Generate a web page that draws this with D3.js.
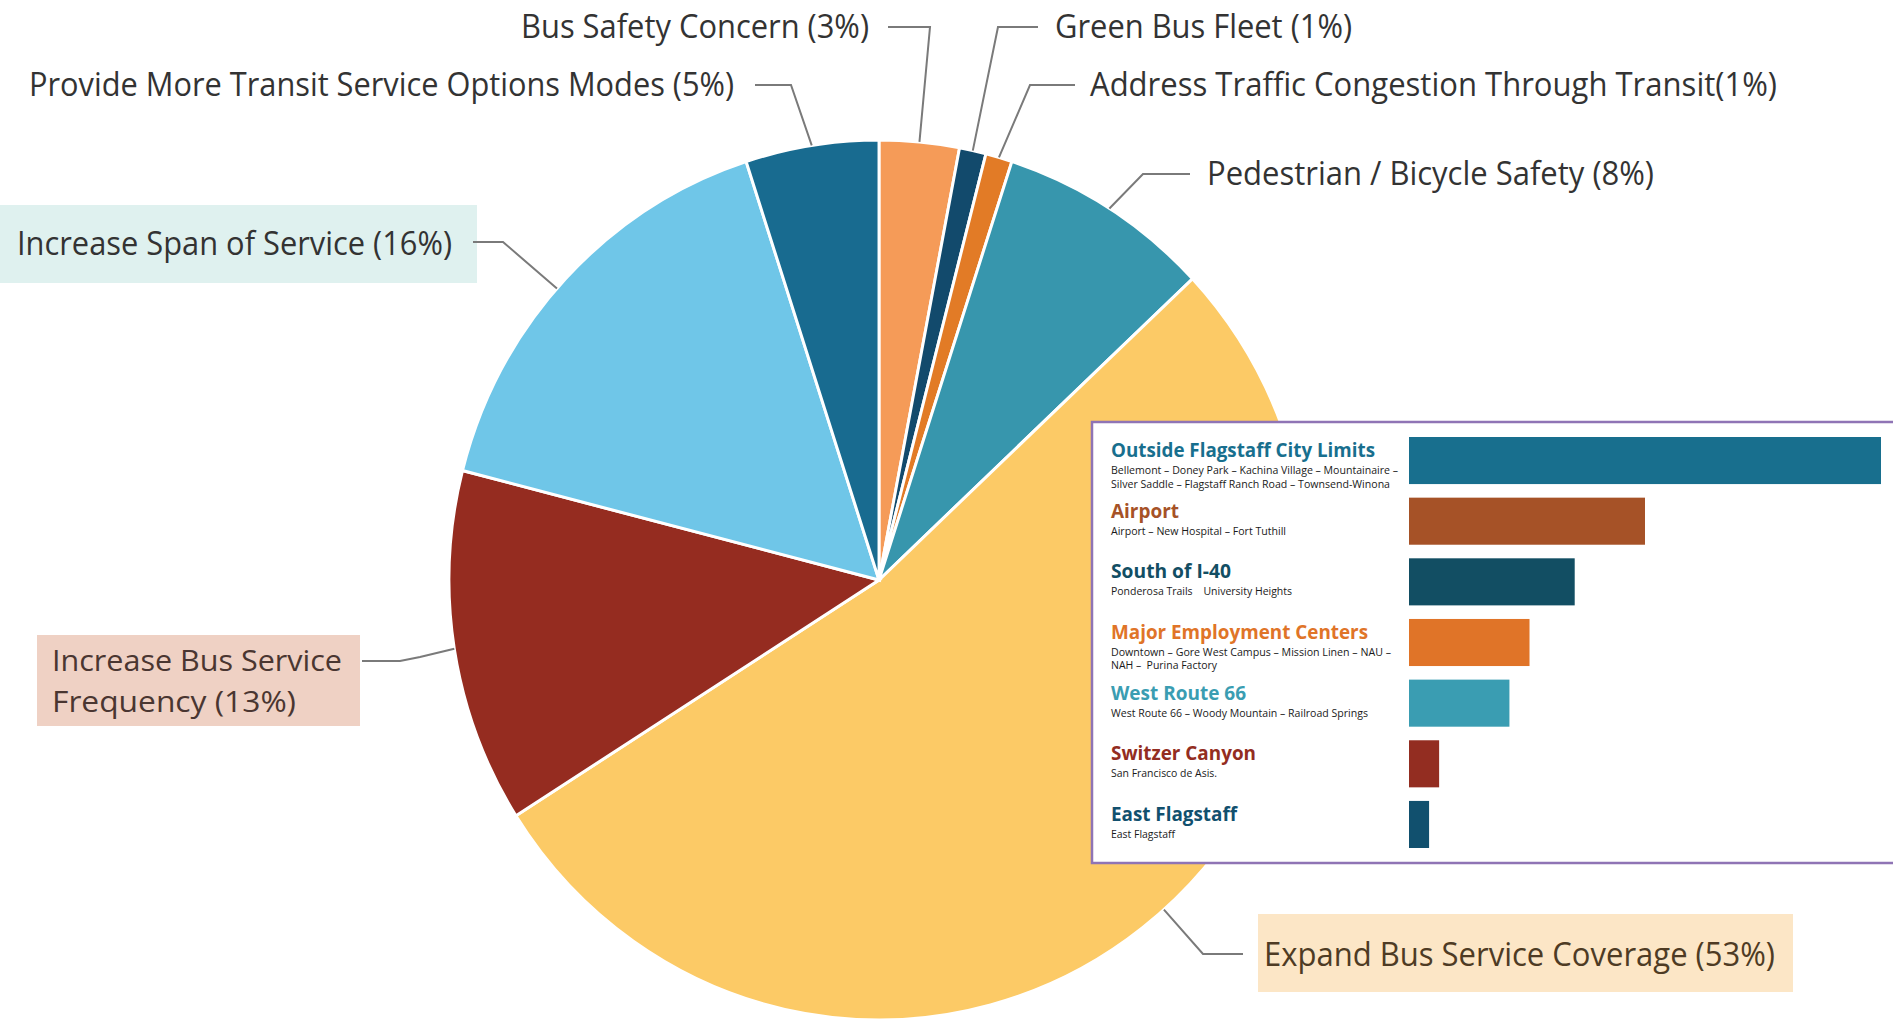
<!DOCTYPE html>
<html>
<head>
<meta charset="utf-8">
<script src="https://cdn.jsdelivr.net/npm/d3@7"></script>
<style>
  html, body { margin: 0; padding: 0; background: #fff; overflow: hidden; }
  text { white-space: pre; }
</style>
</head>
<body>
<div id="chart"></div>
<script>
// pie data, clockwise from 12 o'clock
var pieLabels = [
    "Bus Safety Concern (3%)",
    "Green Bus Fleet (1%)",
    "Address Traffic Congestion Through Transit(1%)",
    "Pedestrian / Bicycle Safety (8%)",
    "Expand Bus Service Coverage (53%)",
    "Increase Bus Service\nFrequency (13%)",
    "Increase Span of Service (16%)",
    "Provide More Transit Service Options Modes (5%)"
];
var pieValues = [3, 1, 1, 8, 53, 13, 16, 5];
var pieColors = ["#f59b58", "#124a6c", "#e27b26", "#3796ad", "#fcca66", "#952c20", "#6fc6e8", "#186b90"];

// inset bar data
var barNames = ["Outside Flagstaff City Limits", "Airport", "South of I-40", "Major Employment Centers",
    "West Route 66", "Switzer Canyon", "East Flagstaff"];
var barSubs = [
    ["Bellemont \u2013 Doney Park \u2013 Kachina Village \u2013 Mountainaire \u2013", "Silver Saddle \u2013 Flagstaff Ranch Road \u2013 Townsend-Winona"],
    ["Airport \u2013 New Hospital \u2013 Fort Tuthill"],
    ["Ponderosa Trails    University Heights"],
    ["Downtown \u2013 Gore West Campus \u2013 Mission Linen \u2013 NAU \u2013", "NAH \u2013  Purina Factory"],
    ["West Route 66 \u2013 Woody Mountain \u2013 Railroad Springs"],
    ["San Francisco de Asis."],
    ["East Flagstaff"]
];
var barValues = [47, 23.5, 16.5, 12, 10, 3, 2];
var barColors = ["#186f8e", "#a65227", "#124e63", "#e07428", "#3a9db2", "#932d21", "#11506e"];

function init() {
    var w = 1893, h = 1023;
    var svg = d3.select("#chart").append("svg")
        .attr("width", w)
        .attr("height", h);

    // ---- pie ----
    var cx = 879, cy = 580, ry = 440, rx = 430;
    var pie = d3.pie().sort(null).value(function (d) { return d; });
    var arc = d3.arc().innerRadius(0).outerRadius(ry);
    var arcs = pie(pieValues);

    svg.append("g")
        .attr("transform", "translate(" + cx + "," + cy + ") scale(" + (rx / ry) + ",1)")
        .selectAll("path")
        .data(arcs)
        .enter()
        .append("path")
        .attr("d", arc)
        .attr("fill", function (d, i) { return pieColors[i]; })
        .attr("stroke", "#fff")
        .attr("stroke-width", 3);

    // label placement (text start, baseline, target width, elbow of leader)
    var labelPos = [
        { x: 521, y: 38, w: 348, line: [[888, 27], [930, 27]] },
        { x: 1055, y: 38, w: 297, line: [[1038, 27], [998, 27]] },
        { x: 1090, y: 96, w: 687, line: [[1075, 85], [1030, 85]] },
        { x: 1207, y: 185, w: 447, line: [[1190, 174], [1143, 174]] },
        { x: 1264, y: 966, w: 511, line: [[1243, 954], [1203, 954]], at: 138.5, box: [1258, 914, 535, 78], fill: "#fce6c6", color: "#4e3b24" },
        { x: 52, y: 671, w: [290, 244], dy: 41, line: [[362, 661], [400, 661], [420, 657]], box: [37, 635, 323, 91], fill: "#efd1c4", color: "#4a3631" },
        { x: 17, y: 255, w: 435, line: [[473, 242], [503, 242]], at: 311.5, box: [0, 205, 477, 78], fill: "#dff1ef", color: "#333" },
        { x: 29, y: 96, w: 705, line: [[755, 85], [791, 85]] }
    ];

    var labels = svg.append("g");
    arcs.forEach(function (a, i) {
        var p = labelPos[i];
        var mid = p.at !== undefined ? p.at * Math.PI / 180 : (a.startAngle + a.endAngle) / 2;
        var edge = [cx + rx * Math.sin(mid), cy - ry * Math.cos(mid)];
        if (p.box) {
            labels.append("rect")
                .attr("x", p.box[0]).attr("y", p.box[1])
                .attr("width", p.box[2]).attr("height", p.box[3])
                .attr("fill", p.fill);
        }
        labels.append("path")
            .attr("d", d3.line()(p.line.concat([edge])))
            .attr("fill", "none")
            .attr("stroke", "#7a7a7a")
            .attr("stroke-width", 2);
        var lines = pieLabels[i].split("\n");
        lines.forEach(function (t, j) {
            labels.append("text")
                .attr("x", p.x)
                .attr("y", p.y + j * (p.dy || 0))
                .attr("font-family", "'Open Sans', sans-serif")
                .attr("font-size", p.box && p.dy ? 30 : 32)
                .attr("fill", p.color || "#333")
                .attr("textLength", Array.isArray(p.w) ? p.w[j] : p.w)
                .attr("lengthAdjust", "spacingAndGlyphs")
                .text(t);
        });
    });

    // ---- inset bar panel ----
    var panel = svg.append("g");
    panel.append("rect")
        .attr("x", 1092).attr("y", 422)
        .attr("width", 820).attr("height", 441)
        .attr("fill", "#fff")
        .attr("stroke", "#8f74b5")
        .attr("stroke-width", 2.5);

    var x = d3.scaleLinear().domain([0, 47]).range([1409, 1881]);
    var y = d3.scaleBand()
        .domain(barNames)
        .range([437, 848])
        .paddingInner(0.224)
        .paddingOuter(0);

    panel.selectAll(".bar")
        .data(barValues)
        .enter()
        .append("rect")
        .attr("class", "bar")
        .attr("x", x(0))
        .attr("y", function (d, i) { return y(barNames[i]); })
        .attr("width", function (d) { return x(d) - x(0); })
        .attr("height", y.bandwidth())
        .attr("fill", function (d, i) { return barColors[i]; });

    var titleW = [264, 68, 120, 257, 135, 145, 126];
    var subW = [[287, 279], [175], [181], [280, 106], [257], [106], [64]];

    barNames.forEach(function (name, i) {
        var top = y(name);
        panel.append("text")
            .attr("x", 1111)
            .attr("y", top + 20)
            .attr("font-family", "'Open Sans', sans-serif")
            .attr("font-weight", 700)
            .attr("font-size", 20)
            .attr("fill", barColors[i])
            .attr("textLength", titleW[i])
            .attr("lengthAdjust", "spacingAndGlyphs")
            .text(name);
        barSubs[i].forEach(function (s, j) {
            panel.append("text")
                .attr("x", 1111)
                .attr("y", top + 37 + j * 13.5)
                .attr("font-family", "'Open Sans', sans-serif")
                .attr("font-size", 11.5)
                .attr("fill", "#1a1a1a")
                .attr("textLength", subW[i][j])
                .attr("lengthAdjust", "spacingAndGlyphs")
                .text(s);
        });
    });
}
window.onload = init;
</script>
</body>
</html>
